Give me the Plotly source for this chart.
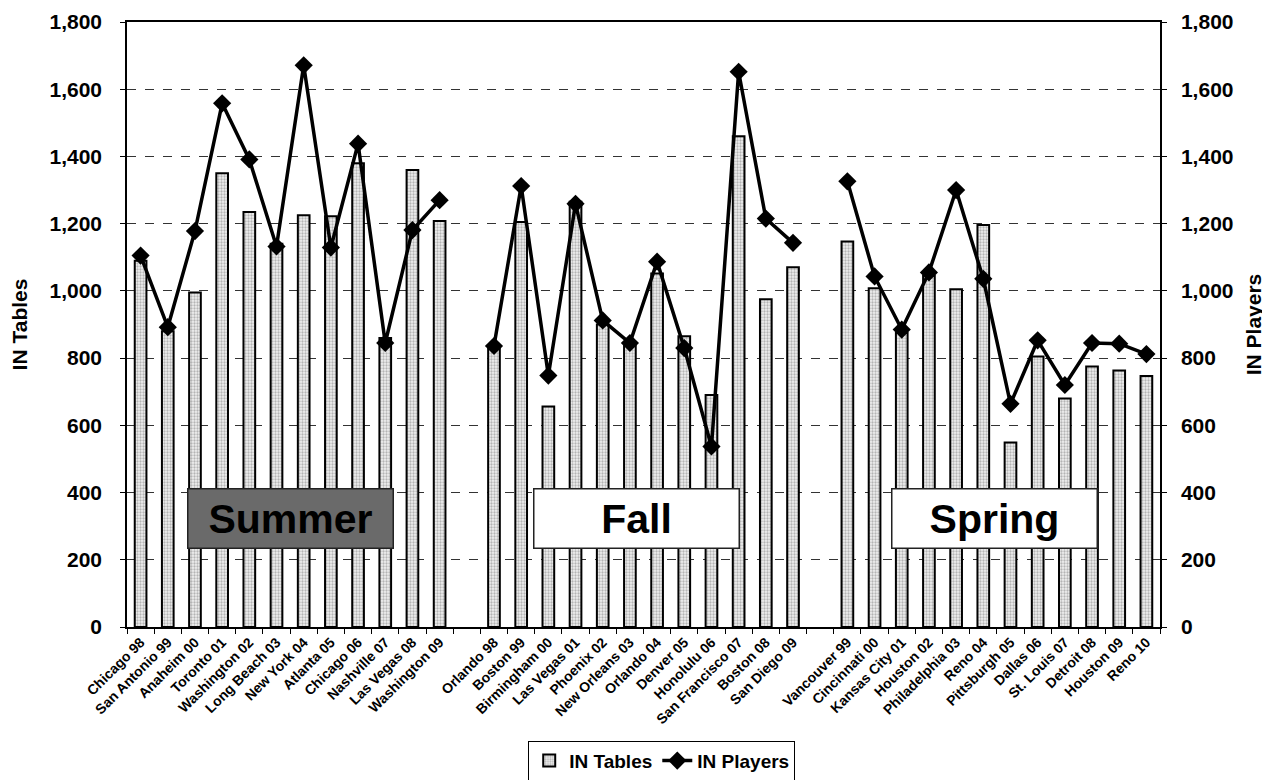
import plotly.graph_objects as go

categories = [
    "Chicago 98", "San Antonio 99", "Anaheim 00", "Toronto 01", "Washington 02",
    "Long Beach 03", "New York 04", "Atlanta 05", "Chicago 06", "Nashville 07",
    "Las Vegas 08", "Washington 09", " ",
    "Orlando 98", "Boston 99", "Birmingham 00", "Las Vegas 01", "Phoenix 02",
    "New Orleans 03", "Orlando 04", "Denver 05", "Honolulu 06", "San Francisco 07",
    "Boston 08", "San Diego 09", "  ",
    "Vancouver 99", "Cincinnati 00", "Kansas City 01", "Houston 02", "Philadelphia 03",
    "Reno 04", "Pittsburgh 05", "Dallas 06", "St. Louis 07", "Detroit 08",
    "Houston 09", "Reno 10",
]

in_tables = [
    1090, 880, 995, 1350, 1235, 1140, 1225, 1222, 1380, 860, 1360, 1208, None,
    830, 1205, 656, 1265, 900, 840, 1052, 865, 690, 1460, 975, 1070, None,
    1147, 1008, 875, 1045, 1005, 1196, 549, 805, 680, 775, 763, 747,
]

in_players = [
    1105, 892, 1178, 1558, 1391, 1132, 1671, 1129, 1438, 845, 1181, 1270, None,
    836, 1312, 748, 1259, 912, 845, 1087, 830, 537, 1652, 1215, 1143, None,
    1326, 1043, 885, 1055, 1300, 1036, 664, 853, 720, 845, 843, 812,
]

season_labels = ["Summer", "Fall", "Spring"]
y_ticks = [0, 200, 400, 600, 800, 1000, 1200, 1400, 1600, 1800]

FONT = "Liberation Sans, Arial, sans-serif"

fig = go.Figure()
fig.add_trace(go.Bar(
    x=categories, y=in_tables, name="IN Tables", width=0.43,
    marker=dict(color="#eeeeee", line=dict(color="black", width=2),
                pattern=dict(shape=".", fgcolor="#777777", bgcolor="#f0f0f0",
                             size=3, solidity=0.45)),
    yaxis="y",
))
fig.add_trace(go.Scatter(
    x=categories, y=in_players, name="IN Players", mode="lines+markers",
    line=dict(color="black", width=3.5),
    marker=dict(symbol="diamond", size=14, color="black"),
    connectgaps=False, yaxis="y2",
))

ann = []
pos = [(0.158, "#6a6a6a"), (0.493, "white"), (0.840, "white")]
for lab, (px, bg) in zip(season_labels, pos):
    ann.append(dict(
        x=px, y=0.179, xref="paper", yref="paper", text="<b>%s</b>" % lab,
        showarrow=False, font=dict(family=FONT, size=41, color="black"),
        bgcolor=bg, bordercolor="#222", borderwidth=1.5, borderpad=2,
        width=200, height=54, xanchor="center", yanchor="middle",
    ))

fig.update_layout(
    width=1262, height=772,
    margin=dict(l=119, r=110, t=14, b=153),
    paper_bgcolor="white", plot_bgcolor="white",
    font=dict(family=FONT, color="black"),
    showlegend=True,
    legend=dict(orientation="h", xref="container", yref="container",
                x=0.518, xanchor="center", y=0.025, yanchor="middle",
                bordercolor="black", borderwidth=1,
                font=dict(family=FONT, size=19, color="black", weight="bold")),
    annotations=ann,
    xaxis=dict(
        type="category", range=[-0.5, len(categories) - 0.5], automargin=False,
        tickangle=-45, tickson="boundaries", ticks="outside",
        ticklen=5, tickcolor="black", showline=True, linecolor="black", linewidth=1.5,
        mirror=True, showgrid=False,
        tickfont=dict(family=FONT, size=14, color="black", weight="bold"),
    ),
    yaxis=dict(
        range=[0, 1800], tickvals=y_ticks, tickformat=",", ticks="outside",
        automargin=False, ticklabelstandoff=14,
        ticklen=5, tickcolor="black", showline=True, linecolor="black", linewidth=1.5,
        showgrid=True, gridcolor="#333", griddash="dash", gridwidth=1, zeroline=False,
        tickfont=dict(family=FONT, size=21, color="black", weight="bold"),
        title=dict(text="IN Tables", standoff=20,
                   font=dict(family=FONT, size=21, color="black", weight="bold")),
    ),
    yaxis2=dict(
        range=[0, 1800], tickvals=y_ticks, tickformat=",", ticks="outside",
        automargin=False, ticklabelstandoff=10,
        ticklen=5, tickcolor="black", showline=True, linecolor="black", linewidth=1.5,
        overlaying="y", side="right", showgrid=False, zeroline=False,
        tickfont=dict(family=FONT, size=21, color="black", weight="bold"),
        title=dict(text="IN Players", standoff=14,
                   font=dict(family=FONT, size=21, color="black", weight="bold")),
    ),
)

fig.write_html("out.html")
